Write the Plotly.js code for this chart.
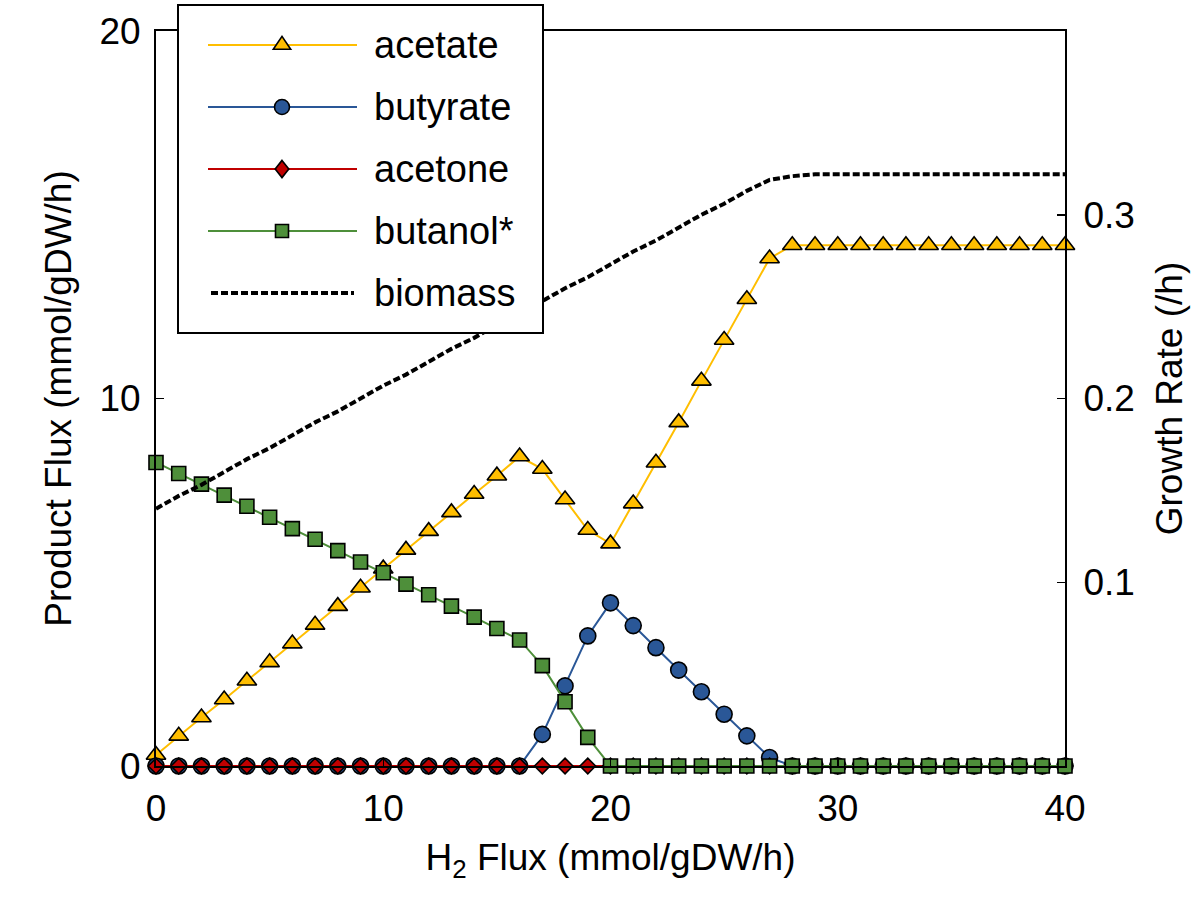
<!DOCTYPE html>
<html>
<head>
<meta charset="utf-8">
<script src="https://cdn.plot.ly/plotly-3.0.1.min.js"></script>
<style>html,body{margin:0;padding:0;background:#fff;}#chart{width:1200px;height:898px;}</style>
</head>
<body>
<div id="chart"></div>
<script>
// ---- data ----
const h2Flux = [0,1,2,3,4,5,6,7,8,9,10,11,12,13,14,15,16,17,18,19,20,21,22,23,24,25,26,27,28,29,30,31,32,33,34,35,36,37,38,39,40];
const acetate = [0.3,0.82,1.32,1.81,2.32,2.82,3.33,3.84,4.35,4.85,5.37,5.88,6.39,6.9,7.4,7.9,8.42,8.08,7.25,6.42,6.05,7.14,8.25,9.35,10.48,11.59,12.7,13.81,14.17,14.17,14.17,14.17,14.17,14.17,14.17,14.17,14.17,14.17,14.17,14.17,14.17];
const butyrate = [0,0,0,0,0,0,0,0,0,0,0,0,0,0,0,0,0,0.86,2.18,3.54,4.44,3.82,3.22,2.61,2.02,1.41,0.82,0.23,0,0,0,0,0,0,0,0,0,0,0,0,0];
const acetone = [0,0,0,0,0,0,0,0,0,0,0,0,0,0,0,0,0,0,0,0,0,0,0,0,0,0,0,0,0,0,0,0,0,0,0,0,0,0,0,0,0];
const butanol = [8.26,7.96,7.67,7.37,7.07,6.77,6.46,6.17,5.86,5.55,5.26,4.95,4.66,4.35,4.05,3.74,3.43,2.73,1.75,0.78,0,0,0,0,0,0,0,0,0,0,0,0,0,0,0,0,0,0,0,0,0];
const biomass = [0.140,0.147,0.153,0.160,0.167,0.173,0.180,0.187,0.193,0.200,0.207,0.213,0.220,0.227,0.233,0.240,0.246,0.253,0.260,0.266,0.273,0.280,0.286,0.293,0.300,0.306,0.313,0.319,0.321,0.322,0.322,0.322,0.322,0.322,0.322,0.322,0.322,0.322,0.322,0.322,0.322];
const seriesNames = ['acetate','butyrate','acetone','butanol*','biomass'];
const xTicks = [0,10,20,30,40];
const yTicks = [0,10,20];
const y2Ticks = [0.1,0.2,0.3];

// ---- styles ----
const FONT = 'Liberation Sans, Arial, Helvetica, sans-serif';
const FS = 37;
const colors = ['#FFBE00','#2A5797','#C00000','#4E8F3A','#000000'];
const symbols = ['triangle-up','circle','diamond','square'];
const msizes = [17,16,12,14];
const productSeries = [acetate, butyrate, acetone, butanol];

const traces = productSeries.map((ys, i) => ({
  type: 'scatter', mode: 'lines+markers', name: seriesNames[i],
  x: h2Flux, y: ys, cliponaxis: false, showlegend: false,
  line: {color: colors[i], width: 2},
  marker: {symbol: symbols[i], size: msizes[i], color: colors[i], line: {color: '#000', width: 1.6}}
}));
traces.push({
  type: 'scatter', mode: 'lines', name: seriesNames[4], x: h2Flux, y: biomass,
  yaxis: 'y2', showlegend: false,
  line: {color: '#000', width: 4, dash: '7px,3px'}
});

// ---- custom legend (pixel layout converted to paper coords) ----
const PL = 156, PR = 1065, PT = 31, PB = 766;
const px = v => (v - PL) / (PR - PL);
const py = v => (PB - v) / (PB - PT);
const shapes = [{
  type: 'rect', xref: 'paper', yref: 'paper', layer: 'above',
  x0: px(178), x1: px(543), y0: py(333), y1: py(5),
  fillcolor: '#fff', line: {color: '#000', width: 2}
}];
const annotations = [];
const markerPaths = [
  'M-8.7,-4.3 L8.7,-4.3 L0,8.6 Z',
  null,
  'M0,8.6 L6.8,0 L0,-8.6 L-6.8,0 Z',
  'M-6.5,-6.5 L6.5,-6.5 L6.5,6.5 L-6.5,6.5 Z'
];
seriesNames.forEach((nm, i) => {
  const yy = 45 + 62 * i;
  shapes.push({
    type: 'line', xref: 'paper', yref: 'paper', layer: 'above',
    x0: px(i === 4 ? 211 : 208), x1: px(i === 4 ? 354 : 357), y0: py(yy), y1: py(yy),
    line: {color: colors[i], width: i === 4 ? 4 : 2, dash: i === 4 ? '7px,3px' : 'solid'}
  });
  if (i < 4) {
    const base = {xref: 'paper', yref: 'paper', layer: 'above', xsizemode: 'pixel', ysizemode: 'pixel',
      xanchor: px(282), yanchor: py(yy), fillcolor: colors[i], line: {color: '#000', width: 1.6}};
    if (i === 1) shapes.push(Object.assign({type: 'circle', x0: -7.5, x1: 7.5, y0: -7.5, y1: 7.5}, base));
    else shapes.push(Object.assign({type: 'path', path: markerPaths[i]}, base));
  }
  annotations.push({
    xref: 'paper', yref: 'paper', x: px(372), y: py(yy), xanchor: 'left', yanchor: 'middle',
    text: nm, showarrow: false, font: {family: FONT, size: 38, color: '#000'}
  });
});

const axisCommon = {
  showgrid: false, zeroline: false, showline: true, linecolor: '#000', linewidth: 2,
  ticks: 'inside', ticklen: 8, tickwidth: 1.5, tickcolor: '#000',
  tickfont: {family: FONT, size: FS, color: '#000'}, automargin: false
};

const layout = {
  width: 1200, height: 898,
  margin: {l: PL, r: 1200 - PR, t: PT, b: 898 - PB, pad: 0},
  paper_bgcolor: '#fff', plot_bgcolor: '#fff',
  font: {family: FONT, size: FS, color: '#000'},
  showlegend: false,
  xaxis: Object.assign({}, axisCommon, {
    range: [0, 40], tickvals: xTicks, ticktext: xTicks.map(String), mirror: true,
    ticklabelstandoff: 9,
    title: {text: 'H<sub>2</sub> Flux (mmol/gDW/h)', font: {family: FONT, size: FS}, standoff: 16}
  }),
  yaxis: Object.assign({}, axisCommon, {
    range: [0, 20], tickvals: yTicks, ticktext: yTicks.map(String),
    ticklabelstandoff: 6,
    title: {text: 'Product Flux (mmol/gDW/h)', font: {family: FONT, size: FS}, standoff: 16}
  }),
  yaxis2: Object.assign({}, axisCommon, {
    overlaying: 'y', side: 'right', range: [0, 0.4], tickvals: y2Ticks, ticktext: y2Ticks.map(v => v.toFixed(1)),
    ticklabelstandoff: 9,
    title: {text: 'Growth Rate (/h)', font: {family: FONT, size: FS}, standoff: 22}
  }),
  shapes: shapes,
  annotations: annotations
};

Plotly.newPlot('chart', traces, layout, {displayModeBar: false, staticPlot: true});
</script>
</body>
</html>
